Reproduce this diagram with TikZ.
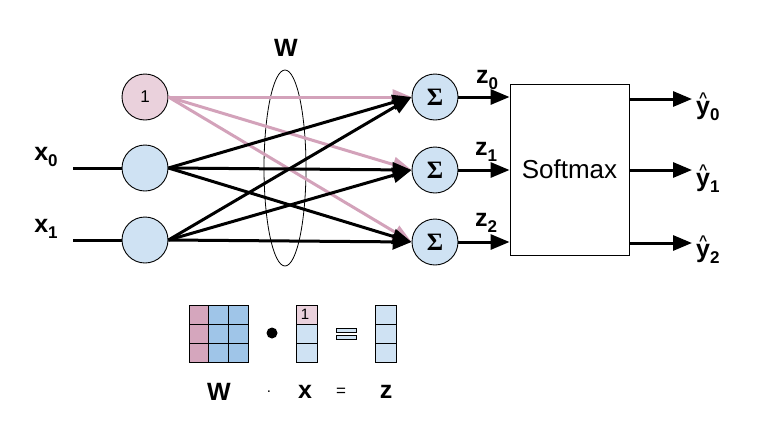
\documentclass[tikz,border=0pt]{standalone}
\usepackage{fontspec}
\setmainfont{Liberation Sans}
\newfontfamily\sigmafont{Liberation Serif}
\usetikzlibrary{arrows.meta,shapes.geometric}

\definecolor{nodeblue}{HTML}{CFE2F3}
\definecolor{nodepink}{HTML}{EAD1DC}
\definecolor{biasline}{HTML}{D3A2BA}
\definecolor{cellblue}{HTML}{9FC5E8}
\definecolor{cellpink}{HTML}{D5A6BD}

\newcommand{\lbl}[2]{\textbf{#1\raisebox{-6pt}{\fontsize{17}{17}\selectfont #2}}}
% y with a small detached caret centred above it
\newcommand{\yhat}{\rlap{\hbox to 0.556em{\hss\raisebox{11.5pt}{\fontsize{14}{14}\selectfont\textasciicircum}\hss}}y}

\begin{document}
\begin{tikzpicture}[x=1pt,y=-1pt,
  neuron/.style={circle,draw,line width=0.9pt,fill=nodeblue,minimum size=46pt,inner sep=0pt},
  biasnode/.style={neuron,fill=nodepink},
  sumnode/.style={neuron,font=\sigmafont\bfseries\fontsize{25}{25}\selectfont},
  wire/.style={line width=3pt},
  arrowwire/.style={wire,-{Triangle[length=19pt,width=15pt]}},
  biaswire/.style={line width=3pt,draw=biasline,-{Triangle[length=19pt,width=15pt]},color=biasline},
  biglabel/.style={font=\fontsize{25}{25}\selectfont,inner sep=0pt},
  cell/.style={draw,line width=0.9pt}
]
\useasboundingbox (0,0) rectangle (758,421);

% input layer
\node[biasnode] (b)  at (145,97)  {\fontsize{17}{17}\selectfont 1};
\node[neuron]   (i0) at (145,168) {};
\node[neuron]   (i1) at (145,240) {};

% summation nodes
\node[sumnode] (s0) at (435,97)  {Σ};
\node[sumnode] (s1) at (435,170) {Σ};
\node[sumnode] (s2) at (435,242) {Σ};

% softmax block
\node[draw,line width=0.9pt,minimum width=119pt,minimum height=171pt,inner sep=0pt,
      font=\fontsize{26}{26}\selectfont] (sm) at (569.5,169.5) {Softmax};

% weights ellipse
\node[draw,ellipse,line width=0.8pt,minimum width=42pt,minimum height=196pt,inner sep=0pt] (wel) at (285,168) {};
\node[biglabel] (wlbl) at (286,48) {\textbf{W}};

% input wires
\coordinate (x0in) at (73,168);
\coordinate (x1in) at (73,240);
\draw[wire] (x0in) -- (i0.west);
\draw[wire] (x1in) -- (i1.west);
\node[biglabel] (x0) at (46,157) {\lbl{x}{0}};
\node[biglabel] (x1) at (46,229) {\lbl{x}{1}};

% bias connections
\foreach \s in {s0,s1,s2} \draw[biaswire] (b.east) -- (\s.west);

% weight connections
\foreach \i in {i0,i1}
  \foreach \s in {s0,s1,s2}
    \draw[arrowwire] (\i.east) -- (\s.west);

% sums into softmax
\draw[arrowwire] (s0.east) -- (s0.east -| sm.west);
\draw[arrowwire] (s1.east) -- (s1.east -| sm.west);
\draw[arrowwire] (s2.east) -- (s2.east -| sm.west);
\node[biglabel] (z0) at (487,80)  {\lbl{z}{0}};
\node[biglabel] (z1) at (486,152) {\lbl{z}{1}};
\node[biglabel] (z2) at (486,223) {\lbl{z}{2}};

% outputs
\coordinate (o0) at (692,99);
\coordinate (o1) at (692,170);
\coordinate (o2) at (692,243);
\draw[arrowwire] (o0 -| sm.east) -- (o0);
\draw[arrowwire] (o1 -| sm.east) -- (o1);
\draw[arrowwire] (o2 -| sm.east) -- (o2);
\node[biglabel,anchor=base west] (y0) at (696,114) {\lbl{\yhat}{0}};
\node[biglabel,anchor=base west] (y1) at (696,186) {\lbl{\yhat}{1}};
\node[biglabel,anchor=base west] (y2) at (696,257) {\lbl{\yhat}{2}};

% matrix form: W . x = z
\foreach \r in {0,1,2} {
  \draw[cell,fill=cellpink] (189,305+19*\r) rectangle ++(19.7,19);
  \draw[cell,fill=cellblue] (208.7,305+19*\r) rectangle ++(19.7,19);
  \draw[cell,fill=cellblue] (228.4,305+19*\r) rectangle ++(19.7,19);
}
\fill (272,333) circle (5.5);
\draw[cell,fill=nodepink] (296,305) rectangle (317,324);
\draw[cell,fill=nodeblue] (296,324) rectangle (317,343);
\draw[cell,fill=nodeblue] (296,343) rectangle (317,362);
\node[font=\fontsize{15}{15}\selectfont,inner sep=0pt] (one) at (305,314) {1};
\draw[line width=0.9pt,fill=nodeblue] (336,328) rectangle (356,332);
\draw[line width=0.9pt,fill=nodeblue] (336,335) rectangle (356,339);
\draw[cell,fill=nodeblue] (375,305) rectangle (396,324);
\draw[cell,fill=nodeblue] (375,324) rectangle (396,343);
\draw[cell,fill=nodeblue] (375,343) rectangle (396,362);

\node[biglabel] (wb) at (219,392) {\textbf{W}};
\node[font=\fontsize{15}{15}\selectfont,inner sep=0pt] (dotb) at (269,392) {.};
\node[biglabel] (xb) at (305,392) {\textbf{x}};
\node[font=\fontsize{17}{17}\selectfont,inner sep=0pt] (eqb) at (341,392) {=};
\node[biglabel] (zb) at (386,392) {\textbf{z}};
\end{tikzpicture}
\end{document}
